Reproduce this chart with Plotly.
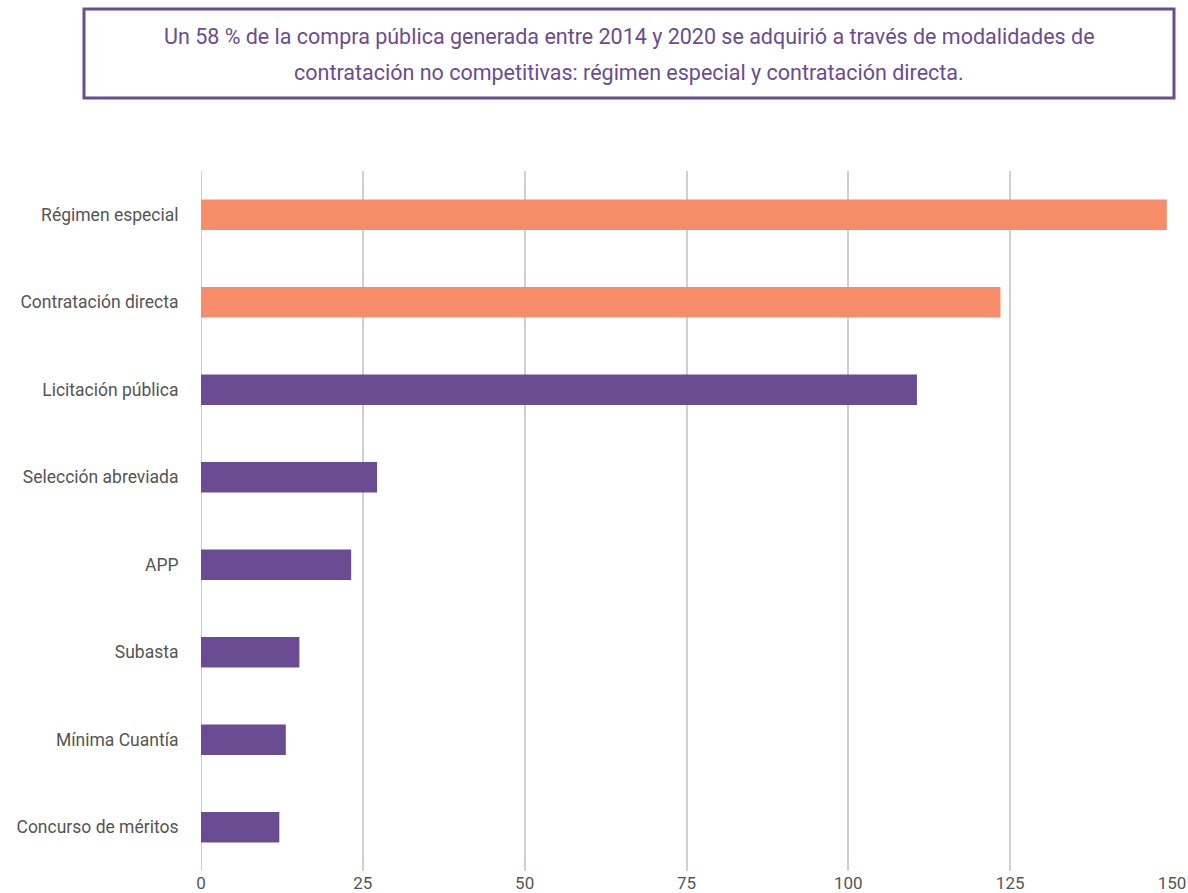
import plotly.graph_objects as go

categories = ["Régimen especial", "Contratación directa", "Licitación pública",
              "Selección abreviada", "APP", "Subasta", "Mínima Cuantía", "Concurso de méritos"]
values = [149.2, 123.5, 110.6, 27.2, 23.2, 15.2, 13.1, 12.1]
bar_colors = ["#F68C6A", "#F68C6A", "#6A4C93", "#6A4C93", "#6A4C93", "#6A4C93", "#6A4C93", "#6A4C93"]
x_ticks = [0, 25, 50, 75, 100, 125, 150]
title_lines = ["Un 58 % de la compra pública generada entre 2014 y 2020 se adquirió a través de modalidades de",
               "contratación no competitivas: régimen especial y contratación directa."]

W, H = 1188, 893
L, R, T, B = 201, 16, 171, 22
pw, ph = W - L - R, H - T - B

def px(x):
    return (x - L) / pw

def py(y):
    return 1 - (y - T) / ph

fig = go.Figure(go.Bar(
    x=values, y=categories, orientation="h",
    marker=dict(color=bar_colors, line=dict(width=0)),
    width=0.35,
))

fig.update_layout(
    width=W, height=H,
    margin=dict(l=L, r=R, t=T, b=B),
    plot_bgcolor="white", paper_bgcolor="white",
    font=dict(family="Roboto", size=17, color="#555555"),
    showlegend=False,
)
fig.update_xaxes(
    range=[0, 150], tickvals=x_ticks, showgrid=True, gridcolor="#d0d0d0", gridwidth=2,
    zeroline=False, showline=False, ticks="", tickfont=dict(size=17, color="#555555"),
    automargin=False,
)
fig.update_yaxes(
    categoryorder="array", categoryarray=categories[::-1], autorange=False, range=[-0.5, 7.5],
    showgrid=False, zeroline=False, showline=False, ticks="outside", ticklen=18,
    tickcolor="rgba(0,0,0,0)", tickfont=dict(size=17.5, color="#555555"), automargin=False,
)
fig.add_vline(x=0, line=dict(color="#d0d0d0", width=2), layer="below")

fig.add_shape(type="rect", xref="paper", yref="paper",
              x0=px(84), x1=px(1174), y0=py(98), y1=py(9),
              line=dict(color="#6A4C93", width=3), fillcolor="rgba(0,0,0,0)")
for i, line in enumerate(title_lines):
    fig.add_annotation(xref="paper", yref="paper", x=px(629), y=py(37 + 36 * i),
                       text=line, showarrow=False, xanchor="center", yanchor="middle",
                       font=dict(family="Roboto", size=21.5, color="#6A4C93"))

fig.write_html("out.html", config={"displayModeBar": False},
               post_script="document.body.style.margin='0';document.body.style.overflow='hidden';")
